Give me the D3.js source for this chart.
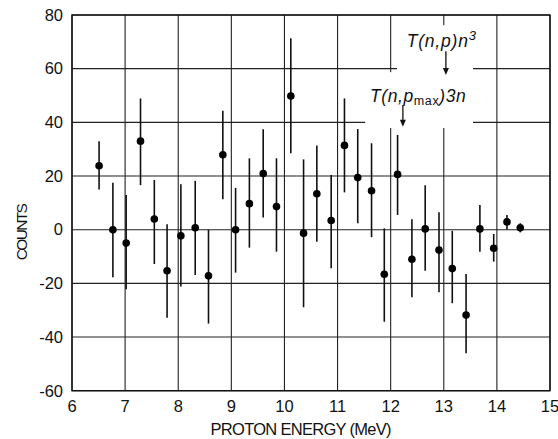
<!DOCTYPE html>
<html>
  <head>
      <script src="https://cdn.jsdelivr.net/npm/d3@7"></script>
      <style>
        body { margin: 0; background: #fff; }
        text { font-family: "Liberation Sans", Arial, sans-serif; fill: #111; }
      </style>
  </head>
  <body>
      <svg width="558" height="439"></svg>
      <script>
      // proton energy (MeV) of each bin
      var energy = [6.51, 6.77, 7.02, 7.29, 7.55, 7.79, 8.05, 8.32, 8.57, 8.84, 9.08,
                    9.34, 9.60, 9.85, 10.12, 10.36, 10.61, 10.88, 11.13, 11.38, 11.64,
                    11.88, 12.13, 12.40, 12.65, 12.91, 13.16, 13.42, 13.68, 13.94, 14.19, 14.44]
      // counts per bin
      var counts = [23.8, 0, -5, 33, 4, -15.3, -2.3, 0.7, -17.2, 27.9, 0,
                    9.7, 20.9, 8.6, 49.8, -1.3, 13.4, 3.4, 31.4, 19.4, 14.5,
                    -16.6, 20.6, -11, 0.3, -7.6, -14.5, -31.8, 0.3, -6.9, 2.9, 0.7]
      // error bar ends
      var errHi = [33, 17.5, 12.9, 48.9, 18.5, 2, 16.9, 18.2, 0, 44.3, 15.6,
                   26.6, 37.4, 26.6, 71.3, 26.2, 31.4, 20.4, 48.9, 37.5, 32.2,
                   0.5, 35.3, 3.9, 16.6, 6.5, -0.4, -16.5, 9.2, -1.6, 5.5, 2.4]
      var errLo = [15, -17.7, -22.2, 16.6, -12.8, -32.8, -21.2, -16.9, -35, 11.3, -16,
                   -6.7, 4.5, -8.2, 28.5, -28.9, -4.5, -14.4, 13.9, 2.4, -2.8,
                   -34.3, 5.5, -25.2, -15.3, -23.3, -27.4, -46, -8.2, -11.9, 0.1, -1]

      var xTicks = [6, 7, 8, 9, 10, 11, 12, 13, 14, 15]
      var yTicks = [-60, -40, -20, 0, 20, 40, 60, 80]

      var svg = d3.select('svg')

      var x = d3.scaleLinear().domain([6, 15]).range([72, 550])
      var y = d3.scaleLinear().domain([-60, 80]).range([390.7, 15])

      // grid
      svg.selectAll('.vgrid').data(xTicks).enter().append('line')
          .attr('x1', function(d){ return x(d) }).attr('x2', function(d){ return x(d) })
          .attr('y1', y(80)).attr('y2', y(-60))
          .attr('stroke', '#222').attr('stroke-width', 1.1)
      svg.selectAll('.hgrid').data(yTicks).enter().append('line')
          .attr('x1', x(6)).attr('x2', x(15))
          .attr('y1', function(d){ return y(d) }).attr('y2', function(d){ return y(d) })
          .attr('stroke', '#222').attr('stroke-width', 1.1)

      // blank area behind the labels
      svg.append('rect')
          .attr('x', x(12.12)).attr('y', y(76.2))
          .attr('width', x(13.55) - x(12.12)).attr('height', y(37.9) - y(76.2))
          .attr('fill', '#fff')
      svg.append('rect')
          .attr('x', x(11.52)).attr('y', y(58.7))
          .attr('width', x(12.13) - x(11.52)).attr('height', y(37.9) - y(58.7))
          .attr('fill', '#fff')

      // frame
      svg.append('rect')
          .attr('x', x(6)).attr('y', y(80))
          .attr('width', x(15) - x(6)).attr('height', y(-60) - y(80))
          .attr('fill', 'none').attr('stroke', '#111').attr('stroke-width', 1.4)

      // tick labels
      svg.selectAll('.xl').data(xTicks).enter().append('text')
          .attr('x', function(d){ return x(d) }).attr('y', 412)
          .attr('text-anchor', 'middle').attr('font-size', 16.5)
          .text(function(d){ return d })
      svg.selectAll('.yl').data(yTicks).enter().append('text')
          .attr('x', 63).attr('y', function(d){ return y(d) + 5.8 })
          .attr('text-anchor', 'end').attr('font-size', 16.5)
          .text(function(d){ return d })

      svg.append('text')
          .attr('x', 301).attr('y', 435)
          .attr('text-anchor', 'middle').attr('font-size', 16.5)
          .attr('textLength', 181)
          .text('PROTON ENERGY (MeV)')
      svg.append('text')
          .attr('transform', 'translate(26.5,231.7) rotate(-90)')
          .attr('text-anchor', 'middle').attr('font-size', 15.5)
          .attr('textLength', 57)
          .text('COUNTS')

      // error bars
      svg.selectAll('.err').data(energy).enter().append('line')
          .attr('x1', function(d){ return x(d) }).attr('x2', function(d){ return x(d) })
          .attr('y1', function(d,i){ return y(errHi[i]) })
          .attr('y2', function(d,i){ return y(errLo[i]) })
          .attr('stroke', '#111').attr('stroke-width', 1.6)

      // points
      svg.selectAll('.pt').data(energy).enter().append('circle')
          .attr('cx', function(d){ return x(d) })
          .attr('cy', function(d,i){ return y(counts[i]) })
          .attr('r', 3.8)
          .attr('fill', '#000')

      // labels with arrows
      function arrow(e, from, to){
          svg.append('line')
              .attr('x1', x(e)).attr('x2', x(e))
              .attr('y1', y(from)).attr('y2', y(to) - 5)
              .attr('stroke', '#111').attr('stroke-width', 1.3)
          svg.append('path')
              .attr('d', 'M' + (x(e) - 3) + ',' + (y(to) - 7) + 'L' + (x(e) + 3) + ',' + (y(to) - 7) + 'L' + x(e) + ',' + y(to) + 'Z')
              .attr('fill', '#111')
      }
      arrow(13.04, 66.5, 57.6)
      arrow(12.23, 46.5, 38.4)

      var t1 = svg.append('text')
          .attr('x', 406.7).attr('y', 46.7)
          .attr('font-size', 17.5).attr('font-style', 'italic')
          .attr('letter-spacing', 0.8)
      t1.append('tspan').text('T(n,p)n')
      t1.append('tspan').attr('dy', -7).attr('font-size', 13).text('3')

      var t2 = svg.append('text')
          .attr('x', 370).attr('y', 101.7)
          .attr('font-size', 17.5).attr('font-style', 'italic')
          .attr('letter-spacing', 0.6)
      t2.append('tspan').text('T(n,p')
      t2.append('tspan').attr('dy', 3).attr('font-size', 12.5).attr('font-style', 'normal').text('max')
      t2.append('tspan').attr('dy', -3).text(')3n')
      </script>
  </body>
</html>
